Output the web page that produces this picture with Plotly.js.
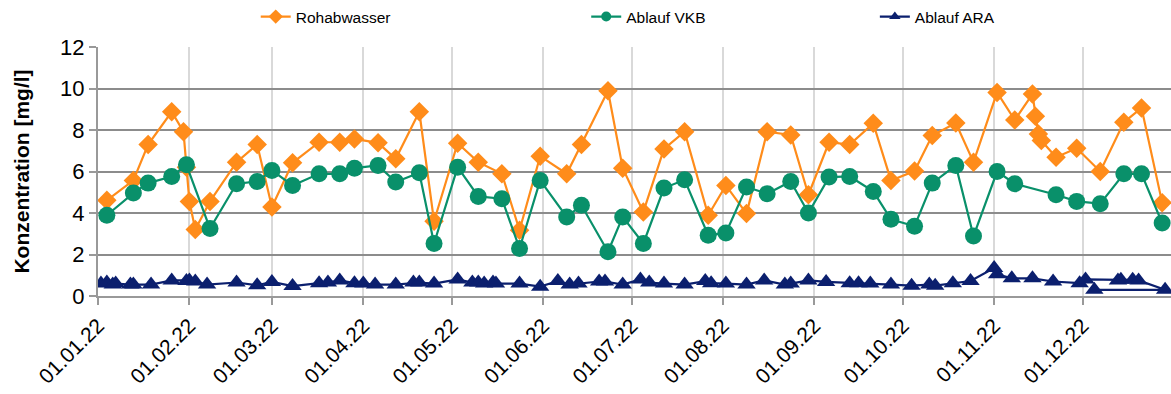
<!DOCTYPE html>
<html>
<head>
<meta charset="utf-8">
<script src="https://cdn.plot.ly/plotly-3.0.1.min.js"></script>
<style>
html,body{margin:0;padding:0;background:#fff;}
#chart{width:1171px;height:394px;}
</style>
</head>
<body>
<div id="chart"></div>
<script>
// Rohabwasser
const rohDates = ["2022-01-04","2022-01-13","2022-01-18","2022-01-26","2022-01-30","2022-01-31","2022-02-01","2022-02-03","2022-02-08","2022-02-17","2022-02-24","2022-03-01","2022-03-08","2022-03-17","2022-03-24","2022-03-29","2022-04-06","2022-04-12","2022-04-20","2022-04-25","2022-05-03","2022-05-10","2022-05-18","2022-05-24","2022-05-31","2022-06-09","2022-06-14","2022-06-23","2022-06-28","2022-07-05","2022-07-12","2022-07-19","2022-07-27","2022-08-02","2022-08-09","2022-08-16","2022-08-24","2022-08-30","2022-09-06","2022-09-13","2022-09-21","2022-09-27","2022-10-05","2022-10-11","2022-10-19","2022-10-25","2022-11-02","2022-11-08","2022-11-14","2022-11-15","2022-11-16","2022-11-17","2022-11-22","2022-11-29","2022-12-07","2022-12-15","2022-12-21","2022-12-28"];
const rohValues = [4.61,5.57,7.30,8.88,7.92,6.2,4.56,3.2,4.56,6.45,7.30,4.29,6.42,7.41,7.41,7.57,7.38,6.61,8.88,3.6,7.36,6.45,5.89,3.17,6.74,5.89,7.30,9.89,6.16,4.05,7.09,7.92,3.89,5.33,3.97,7.92,7.76,4.88,7.41,7.30,8.32,5.57,6.02,7.73,8.34,6.45,9.81,8.48,9.73,8.66,7.81,7.49,6.69,7.12,6.0,8.37,9.06,4.50];

// Ablauf VKB
const vkbDates = ["2022-01-04","2022-01-13","2022-01-18","2022-01-26","2022-01-31","2022-02-08","2022-02-17","2022-02-24","2022-03-01","2022-03-08","2022-03-17","2022-03-24","2022-03-29","2022-04-06","2022-04-12","2022-04-20","2022-04-25","2022-05-03","2022-05-10","2022-05-18","2022-05-24","2022-05-31","2022-06-09","2022-06-14","2022-06-23","2022-06-28","2022-07-05","2022-07-12","2022-07-19","2022-07-27","2022-08-02","2022-08-09","2022-08-16","2022-08-24","2022-08-30","2022-09-06","2022-09-13","2022-09-21","2022-09-27","2022-10-05","2022-10-11","2022-10-19","2022-10-25","2022-11-02","2022-11-08","2022-11-22","2022-11-29","2022-12-07","2022-12-15","2022-12-21","2022-12-28"];
const vkbValues = [3.89,4.96,5.44,5.76,6.32,3.25,5.41,5.52,6.05,5.33,5.89,5.89,6.16,6.29,5.49,5.94,2.53,6.21,4.80,4.69,2.29,5.57,3.81,4.37,2.13,3.81,2.53,5.20,5.60,2.93,3.04,5.25,4.93,5.52,4.0,5.73,5.76,5.04,3.70,3.36,5.44,6.29,2.89,6.0,5.41,4.88,4.56,4.45,5.89,5.89,3.52];

// Ablauf ARA (kept in the order of the source series; the last value belongs to early December)
const araDates = ["2022-01-02","2022-01-04","2022-01-06","2022-01-07","2022-01-12","2022-01-13","2022-01-19","2022-01-26","2022-01-31","2022-02-01","2022-02-03","2022-02-07","2022-02-17","2022-02-24","2022-03-01","2022-03-08","2022-03-17","2022-03-20","2022-03-24","2022-03-29","2022-04-01","2022-04-05","2022-04-12","2022-04-18","2022-04-20","2022-04-25","2022-05-03","2022-05-08","2022-05-10","2022-05-12","2022-05-15","2022-05-16","2022-05-24","2022-05-31","2022-06-06","2022-06-10","2022-06-13","2022-06-20","2022-06-22","2022-06-28","2022-07-04","2022-07-07","2022-07-12","2022-07-19","2022-07-26","2022-07-28","2022-08-02","2022-08-09","2022-08-15","2022-08-22","2022-08-24","2022-08-30","2022-09-05","2022-09-13","2022-09-16","2022-09-20","2022-09-27","2022-10-04","2022-10-10","2022-10-12","2022-10-18","2022-10-24","2022-11-01","2022-11-02","2022-11-07","2022-11-14","2022-11-21","2022-11-30","2022-12-02","2022-12-13","2022-12-14","2022-12-18","2022-12-20","2022-12-29","2022-12-05"];
const araValues = [0.6,0.65,0.55,0.6,0.55,0.55,0.55,0.75,0.72,0.75,0.7,0.55,0.65,0.52,0.68,0.48,0.62,0.65,0.75,0.62,0.6,0.55,0.55,0.65,0.65,0.6,0.8,0.65,0.65,0.6,0.65,0.6,0.6,0.45,0.72,0.55,0.6,0.7,0.7,0.55,0.8,0.65,0.6,0.55,0.72,0.62,0.6,0.55,0.75,0.55,0.6,0.75,0.68,0.62,0.62,0.6,0.55,0.5,0.55,0.5,0.62,0.72,1.35,1.05,0.85,0.85,0.7,0.62,0.8,0.75,0.78,0.78,0.75,0.3,0.3];

const tickDates = ["2022-01-01","2022-02-01","2022-03-01","2022-04-01","2022-05-01","2022-06-01","2022-07-01","2022-08-01","2022-09-01","2022-10-01","2022-11-01","2022-12-01"];
const tickLabels = ["01.01.22","01.02.22","01.03.22","01.04.22","01.05.22","01.06.22","01.07.22","01.08.22","01.09.22","01.10.22","01.11.22","01.12.22"];

const ORANGE = '#FF8C1A', GREEN = '#09906A', NAVY = '#0B1F6E';
const F = '"Liberation Sans", Arial, sans-serif';

const traces = [
  {x: rohDates, y: rohValues, name: 'Rohabwasser', type: 'scatter', mode: 'lines+markers', showlegend: false,
   line: {color: ORANGE, width: 2.2}, marker: {symbol: 'diamond', size: 15, color: ORANGE}},
  {x: vkbDates, y: vkbValues, name: 'Ablauf VKB', type: 'scatter', mode: 'lines+markers', showlegend: false,
   line: {color: GREEN, width: 2.2}, marker: {symbol: 'circle', size: 17, color: GREEN}},
  {x: araDates, y: araValues, name: 'Ablauf ARA', type: 'scatter', mode: 'lines+markers', showlegend: false,
   line: {color: NAVY, width: 2.2}, marker: {symbol: 'triangle-up', size: 16, color: NAVY}},
  // legend entries (small symbols as in the reference)
  {x: [null], y: [null], name: 'Rohabwasser', type: 'scatter', mode: 'lines+markers', legend: 'legend',
   line: {color: ORANGE, width: 2.2}, marker: {symbol: 'diamond', size: 11, color: ORANGE}},
  {x: [null], y: [null], name: 'Ablauf VKB', type: 'scatter', mode: 'lines+markers', legend: 'legend2',
   line: {color: GREEN, width: 2.2}, marker: {symbol: 'circle', size: 10, color: GREEN}},
  {x: [null], y: [null], name: 'Ablauf ARA', type: 'scatter', mode: 'lines+markers', legend: 'legend3',
   line: {color: NAVY, width: 2.2}, marker: {symbol: 'triangle-up', size: 10, color: NAVY}}
];

const legBase = {orientation: 'h', yanchor: 'middle', y: 1.12, xanchor: 'left', font: {family: F, size: 15.5, color: '#000'}, bgcolor: 'rgba(0,0,0,0)'};
const layout = {
  width: 1171, height: 394,
  margin: {l: 98, r: 0, t: 46, b: 98},
  paper_bgcolor: '#fff', plot_bgcolor: '#fff',
  font: {family: F, color: '#000'},
  showlegend: true,
  legend: Object.assign({}, legBase, {x: 0.147}),
  legend2: Object.assign({}, legBase, {x: 0.455}),
  legend3: Object.assign({}, legBase, {x: 0.724}),
  xaxis: {
    type: 'date', range: ['2022-01-01', '2022-12-31'],
    tickvals: tickDates, ticktext: tickLabels, tickangle: -45,
    tickfont: {family: F, size: 21, color: '#000'},
    showgrid: true, gridcolor: '#d9d9d9', gridwidth: 2,
    showline: true, linecolor: '#999', linewidth: 2,
    ticks: 'outside', ticklen: 7, tickcolor: '#999', tickwidth: 2,
    zeroline: false
  },
  yaxis: {
    range: [0, 12], dtick: 2, tick0: 0,
    tickfont: {family: F, size: 22, color: '#000'},
    title: {text: 'Konzentration [mg/l]', font: {family: F, size: 21, color: '#000', weight: 'bold'}, standoff: 25},
    showgrid: true, gridcolor: '#8c8c8c', gridwidth: 2,
    showline: true, linecolor: '#999', linewidth: 2,
    ticks: 'outside', ticklen: 7, tickcolor: '#999', tickwidth: 2,
    zeroline: false
  }
};

Plotly.newPlot('chart', traces, layout, {displayModeBar: false, staticPlot: true});
</script>
</body>
</html>
